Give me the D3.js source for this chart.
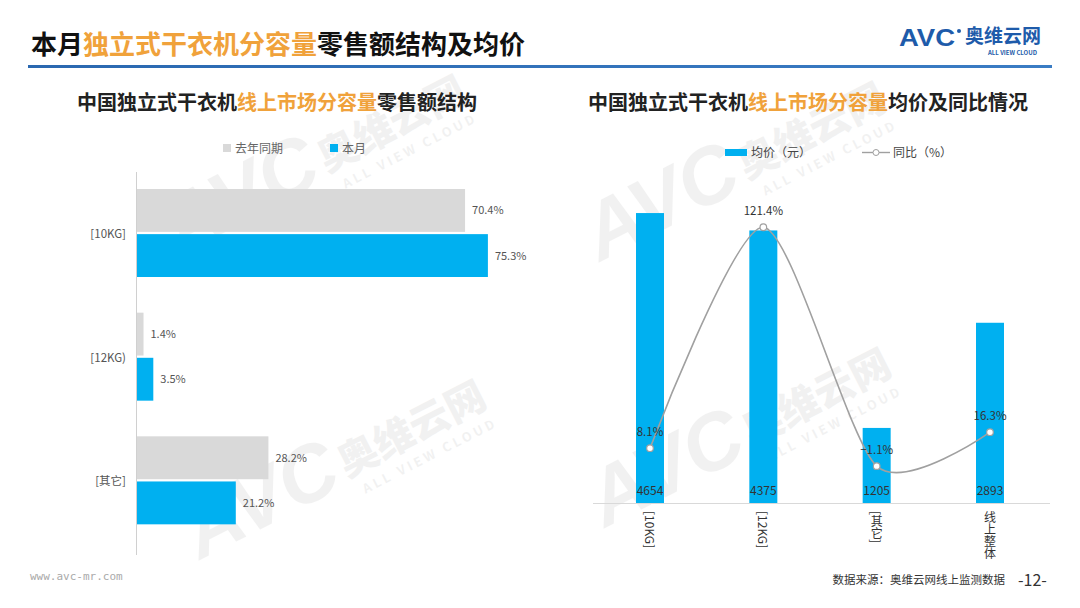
<!DOCTYPE html>
<html><head><meta charset="utf-8">
<script src="https://cdn.jsdelivr.net/npm/d3@7"></script>
<style>
html,body{margin:0;padding:0;background:#fff;}
svg{display:block;font-family:"Noto Sans CJK SC","Noto Sans",sans-serif;}
</style></head>
<body>
<svg id="c" width="1080" height="608"></svg>
<script>
// ---- data ----
const leftCategories = ["[10KG]", "[12KG)", "[其它]"];
const seriesNames = ["去年同期", "本月"];
const lastYearShare = [70.4, 1.4, 28.2];
const thisMonthShare = [75.3, 3.5, 21.2];

const rightCategories = ["[10KG]", "[12KG]", "[其它]", "线上整体"];
const avgPrice = [4654, 4375, 1205, 2893];
const yoyPct = [8.1, 121.4, -1.1, 16.3];
const rightLegend = ["均价（元）", "同比（%）"];

const svg = d3.select("#c");
const ORANGE = "#F0A23B", BLUE = "#00B0F0", GRAY = "#D9D9D9";

// ---- watermarks ----
function watermark(x, y, s) {
  const g = svg.append("g").attr("transform", `translate(${x},${y}) rotate(-27) scale(${s})`)
    .attr("fill", "#000").attr("opacity", 0.05);
  g.append("text").attr("x", 0).attr("y", 0).attr("font-size", 100).attr("font-weight", 900)
    .attr("font-style", "italic").attr("font-family", "Liberation Sans, sans-serif").text("AVC");
  g.append("text").attr("x", 210).attr("y", -8).attr("font-size", 50).attr("font-weight", 900).text("奥维云网");
  g.append("text").attr("x", 222).attr("y", 20).attr("font-size", 16).attr("font-weight", 700)
    .attr("letter-spacing", 4).text("ALL VIEW CLOUD");
}
watermark(180, 255, 0.8);
watermark(200, 560, 0.8);
watermark(600, 262, 0.8);
watermark(605, 528, 0.8);

// ---- header ----
const title = svg.append("text").attr("x", 31).attr("y", 54).attr("font-size", 26).attr("font-weight", 700).attr("fill", "#111");
title.append("tspan").text("本月");
title.append("tspan").attr("fill", ORANGE).text("独立式干衣机分容量");
title.append("tspan").text("零售额结构及均价");

const rule = svg.append("defs").append("linearGradient").attr("id", "rg");
rule.append("stop").attr("offset", "0%").attr("stop-color", "#2A68B0");
rule.append("stop").attr("offset", "100%").attr("stop-color", "#3A7CC4");
svg.append("rect").attr("x", 28).attr("y", 65).attr("width", 1024).attr("height", 3).attr("fill", "url(#rg)");

// logo
svg.append("text").attr("x", 899).attr("y", 46).attr("font-size", 23).attr("font-weight", 900)
  .attr("font-family", "Liberation Sans, sans-serif").attr("fill", "#1E5BAA")
  .attr("textLength", 56).attr("lengthAdjust", "spacingAndGlyphs").text("AVC");
svg.append("circle").attr("cx", 959).attr("cy", 31).attr("r", 2).attr("fill", "#1E5BAA");
svg.append("text").attr("x", 965).attr("y", 43).attr("font-size", 19).attr("font-weight", 700).attr("fill", "#1E5BAA").text("奥维云网");
svg.append("text").attr("x", 988).attr("y", 55).attr("font-size", 6).attr("font-weight", 700).attr("fill", "#1E5BAA").text("ALL VIEW CLOUD");

// ---- subtitles ----
function subtitle(cx, parts) {
  const t = svg.append("text").attr("x", cx).attr("y", 110).attr("text-anchor", "middle")
    .attr("font-size", 20).attr("font-weight", 700).attr("fill", "#222");
  parts.forEach(p => t.append("tspan").attr("fill", p[1] ? ORANGE : null).text(p[0]));
}
subtitle(277, [["中国独立式干衣机", 0], ["线上市场分容量", 1], ["零售额结构", 0]]);
subtitle(808, [["中国独立式干衣机", 0], ["线上市场分容量", 1], ["均价及同比情况", 0]]);

// ---- left chart ----
const xL = d3.scaleLinear().domain([0, 100]).range([136, 602]);
const yL = d3.scaleBand().domain(leftCategories).range([171, 542]);
const yInner = d3.scaleBand().domain(seriesNames).range([18, 106]).paddingInner(0.05);
const leftColors = [GRAY, BLUE];
const leftData = [lastYearShare, thisMonthShare];

svg.append("line").attr("x1", 136.5).attr("x2", 136.5).attr("y1", 172).attr("y2", 555)
  .attr("stroke", "#D0D0D0").attr("stroke-width", 1);

seriesNames.forEach((s, si) => {
  const g = svg.append("g");
  g.selectAll("rect").data(leftCategories).join("rect")
    .attr("x", xL(0) + 1)
    .attr("y", d => yL(d) + yInner(s))
    .attr("width", (d, i) => xL(leftData[si][i]) - xL(0))
    .attr("height", yInner.bandwidth())
    .attr("fill", leftColors[si]);
  g.selectAll("text").data(leftCategories).join("text")
    .attr("x", (d, i) => xL(leftData[si][i]) + 8)
    .attr("y", d => yL(d) + yInner(s) + yInner.bandwidth() / 2 + 4)
    .attr("font-size", 11).attr("fill", "#555")
    .text((d, i) => leftData[si][i].toFixed(1) + "%");
});

svg.append("g").selectAll("text").data(leftCategories).join("text")
  .attr("x", 126).attr("y", d => yL(d) + yL.bandwidth() / 2 + 5)
  .attr("text-anchor", "end").attr("font-size", 11.5).attr("fill", "#555").text(d => d);

// left legend
seriesNames.forEach((s, i) => {
  const lx = [223, 330][i];
  svg.append("rect").attr("x", lx).attr("y", 144).attr("width", 8).attr("height", 8).attr("fill", leftColors[i]);
  svg.append("text").attr("x", lx + 12).attr("y", 152.5).attr("font-size", 12).attr("fill", "#666").text(s);
});

// ---- right chart ----
const xR = d3.scalePoint().domain(rightCategories).range([650, 990]);
const yR = d3.scaleLinear().domain([0, 5000]).range([503, 191.5]);
const yP = d3.scaleLinear().domain([-20, 140]).range([503, 191]);
const barW = 28;

svg.append("g").selectAll("rect").data(rightCategories).join("rect")
  .attr("x", d => xR(d) - barW / 2)
  .attr("y", (d, i) => yR(avgPrice[i]))
  .attr("width", barW)
  .attr("height", (d, i) => yR(0) - yR(avgPrice[i]))
  .attr("fill", BLUE);

svg.append("line").attr("x1", 593).attr("x2", 1050).attr("y1", 503.5).attr("y2", 503.5)
  .attr("stroke", "#D9D9D9").attr("stroke-width", 1);

svg.append("g").selectAll("text").data(rightCategories).join("text")
  .attr("x", d => xR(d)).attr("y", 495)
  .attr("text-anchor", "middle").attr("font-size", 12).attr("fill", "#333")
  .text((d, i) => avgPrice[i]);

const line = d3.line().x((d, i) => xR(rightCategories[i])).y(d => yP(d)).curve(d3.curveCardinal.tension(0.25));
svg.append("path").attr("d", line(yoyPct)).attr("fill", "none").attr("stroke", "#A0A0A0").attr("stroke-width", 1.6);

svg.append("g").selectAll("circle").data(yoyPct).join("circle")
  .attr("cx", (d, i) => xR(rightCategories[i])).attr("cy", d => yP(d)).attr("r", 3.3)
  .attr("fill", "#fff").attr("stroke", "#A0A0A0").attr("stroke-width", 1.2);

svg.append("g").selectAll("text").data(yoyPct).join("text")
  .attr("x", (d, i) => xR(rightCategories[i])).attr("y", d => yP(d) - 12)
  .attr("text-anchor", "middle").attr("font-size", 11.5).attr("fill", "#333")
  .text(d => (d < 0 ? "−" + Math.abs(d).toFixed(1) : d.toFixed(1)) + "%");

svg.append("g").selectAll("text").data(rightCategories).join("text")
  .attr("x", d => xR(d)).attr("y", 511)
  .style("writing-mode", "vertical-rl")
  .attr("font-size", 12).attr("fill", "#333").text(d => d);

// right legend
svg.append("rect").attr("x", 725).attr("y", 149).attr("width", 22).attr("height", 7).attr("fill", BLUE);
svg.append("text").attr("x", 751).attr("y", 157).attr("font-size", 12).attr("fill", "#444").text(rightLegend[0]);
svg.append("line").attr("x1", 862).attr("x2", 890).attr("y1", 152.5).attr("y2", 152.5).attr("stroke", "#A0A0A0").attr("stroke-width", 1.4);
svg.append("circle").attr("cx", 876).attr("cy", 152.5).attr("r", 3).attr("fill", "#fff").attr("stroke", "#A0A0A0");
svg.append("text").attr("x", 893).attr("y", 157).attr("font-size", 12).attr("fill", "#444").text(rightLegend[1]);

// ---- footer ----
svg.append("text").attr("x", 30).attr("y", 580).attr("font-size", 11).attr("fill", "#AAA")
  .attr("font-family", "DejaVu Sans Mono, monospace").text("www.avc-mr.com");
svg.append("text").attr("x", 1005).attr("y", 584).attr("text-anchor", "end").attr("font-size", 11.5).attr("fill", "#333").text("数据来源：奥维云网线上监测数据");
svg.append("text").attr("x", 1018).attr("y", 586).attr("font-size", 16).attr("fill", "#333").text("-12-");
</script>
</body></html>
